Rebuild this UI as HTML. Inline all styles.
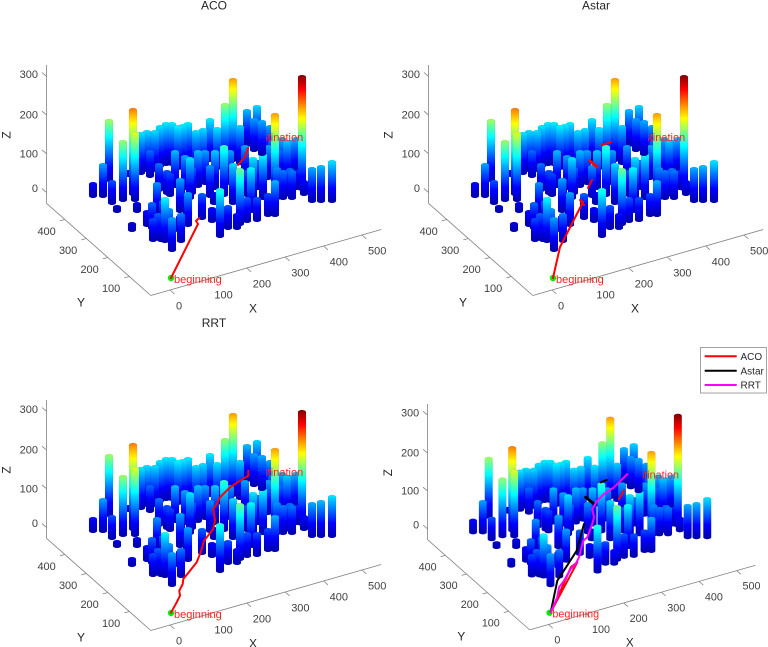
<!DOCTYPE html>
<html><head><meta charset="utf-8"><style>
html,body{margin:0;padding:0;background:#fff;}
svg{display:block;}
text{font-family:"Liberation Sans",Arial,sans-serif;}
</style></head><body>
<svg width="768" height="647" viewBox="0 0 768 647" xmlns="http://www.w3.org/2000/svg">
<defs>
<linearGradient id="j" gradientUnits="userSpaceOnUse" x1="0" y1="0" x2="0" y2="-116">
<stop offset="0" stop-color="#0000a8"/>
<stop offset="0.125" stop-color="#0000ff"/>
<stop offset="0.39" stop-color="#00ffff"/>
<stop offset="0.625" stop-color="#ffff00"/>
<stop offset="0.875" stop-color="#ff0000"/>
<stop offset="1" stop-color="#800000"/>
</linearGradient>
<g id="bars" fill="url(#j)" stroke="#000060" stroke-opacity="0.12" stroke-width="0.5">
<rect transform="translate(257,146)" x="-4" y="-41" width="8" height="41" rx="4" ry="2"/>
<rect transform="translate(247,147)" x="-4" y="-38" width="8" height="38" rx="4" ry="2"/>
<rect transform="translate(254,152)" x="-4" y="-34" width="8" height="34" rx="4" ry="2"/>
<rect transform="translate(262,156)" x="-4" y="-36" width="8" height="36" rx="4" ry="2"/>
<rect transform="translate(270,160)" x="-4" y="-35" width="8" height="35" rx="4" ry="2"/>
<rect transform="translate(233,162)" x="-4" y="-84" width="8" height="84" rx="4" ry="2"/>
<rect transform="translate(210,162)" x="-4" y="-44" width="8" height="44" rx="4" ry="2"/>
<rect transform="translate(240,165)" x="-4" y="-40" width="8" height="40" rx="4" ry="2"/>
<rect transform="translate(225,165)" x="-4" y="-62" width="8" height="62" rx="4" ry="2"/>
<rect transform="translate(166,166)" x="-4" y="-44" width="8" height="44" rx="4" ry="2"/>
<rect transform="translate(172,166)" x="-4" y="-44" width="8" height="44" rx="4" ry="2"/>
<rect transform="translate(188,166)" x="-4" y="-44" width="8" height="44" rx="4" ry="2"/>
<rect transform="translate(272,168)" x="-4" y="-28" width="8" height="28" rx="4" ry="2"/>
<rect transform="translate(160,168)" x="-4" y="-43" width="8" height="43" rx="4" ry="2"/>
<rect transform="translate(183,168)" x="-4" y="-44" width="8" height="44" rx="4" ry="2"/>
<rect transform="translate(217,170)" x="-4" y="-43" width="8" height="43" rx="4" ry="2"/>
<rect transform="translate(178,170)" x="-4" y="-45" width="8" height="45" rx="4" ry="2"/>
<rect transform="translate(203,170)" x="-4" y="-42" width="8" height="42" rx="4" ry="2"/>
<rect transform="translate(147,172)" x="-4" y="-42" width="8" height="42" rx="4" ry="2"/>
<rect transform="translate(155,172)" x="-4" y="-42" width="8" height="42" rx="4" ry="2"/>
<rect transform="translate(196,172)" x="-4" y="-42" width="8" height="42" rx="4" ry="2"/>
<rect transform="translate(265,172)" x="-4" y="-22" width="8" height="22" rx="4" ry="2"/>
<rect transform="translate(277,172)" x="-4" y="-32" width="8" height="32" rx="4" ry="2"/>
<rect transform="translate(141,175)" x="-4" y="-43" width="8" height="43" rx="4" ry="2"/>
<rect transform="translate(282,175)" x="-4" y="-38" width="8" height="38" rx="4" ry="2"/>
<rect transform="translate(296,175)" x="-4" y="-38" width="8" height="38" rx="4" ry="2"/>
<rect transform="translate(290,176)" x="-4" y="-36" width="8" height="36" rx="4" ry="2"/>
<rect transform="translate(129,177)" x="-4" y="-7" width="8" height="7" rx="4" ry="2"/>
<rect transform="translate(280,178)" x="-4" y="-28" width="8" height="28" rx="4" ry="2"/>
<rect transform="translate(150,178)" x="-4" y="-28" width="8" height="28" rx="4" ry="2"/>
<rect transform="translate(287,180)" x="-4" y="-40" width="8" height="40" rx="4" ry="2"/>
<rect transform="translate(268,180)" x="-4" y="-35" width="8" height="35" rx="4" ry="2"/>
<rect transform="translate(245,180)" x="-4" y="-35" width="8" height="35" rx="4" ry="2"/>
<rect transform="translate(109,182)" x="-4" y="-63" width="8" height="63" rx="4" ry="2"/>
<rect transform="translate(205,185)" x="-4" y="-35" width="8" height="35" rx="4" ry="2"/>
<rect transform="translate(230,185)" x="-4" y="-35" width="8" height="35" rx="4" ry="2"/>
<rect transform="translate(175,188)" x="-4" y="-38" width="8" height="38" rx="4" ry="2"/>
<rect transform="translate(198,188)" x="-4" y="-38" width="8" height="38" rx="4" ry="2"/>
<rect transform="translate(185,190)" x="-4" y="-35" width="8" height="35" rx="4" ry="2"/>
<rect transform="translate(215,190)" x="-4" y="-40" width="8" height="40" rx="4" ry="2"/>
<rect transform="translate(258,190)" x="-4" y="-30" width="8" height="30" rx="4" ry="2"/>
<rect transform="translate(297,190)" x="-4" y="-20" width="8" height="20" rx="4" ry="2"/>
<rect transform="translate(302,191)" x="-4" y="-116" width="8" height="116" rx="4" ry="2"/>
<rect transform="translate(159,192)" x="-4" y="-29" width="8" height="29" rx="4" ry="2"/>
<rect transform="translate(167,195)" x="-4" y="-25" width="8" height="25" rx="4" ry="2"/>
<rect transform="translate(192,195)" x="-4" y="-28" width="8" height="28" rx="4" ry="2"/>
<rect transform="translate(304,196)" x="-4" y="-16" width="8" height="16" rx="4" ry="2"/>
<rect transform="translate(133,196)" x="-4" y="-88" width="8" height="88" rx="4" ry="2"/>
<rect transform="translate(224,197)" x="-4" y="-52" width="8" height="52" rx="4" ry="2"/>
<rect transform="translate(275,197)" x="-4" y="-84" width="8" height="84" rx="4" ry="2"/>
<rect transform="translate(290,197)" x="-4" y="-29" width="8" height="29" rx="4" ry="2"/>
<rect transform="translate(247,197)" x="-4" y="-27" width="8" height="27" rx="4" ry="2"/>
<rect transform="translate(170,197)" x="-4" y="-24" width="8" height="24" rx="4" ry="2"/>
<rect transform="translate(93,198)" x="-4" y="-16" width="8" height="16" rx="4" ry="2"/>
<rect transform="translate(103,198)" x="-4" y="-35" width="8" height="35" rx="4" ry="2"/>
<rect transform="translate(210,198)" x="-4" y="-33" width="8" height="33" rx="4" ry="2"/>
<rect transform="translate(190,200)" x="-4" y="-43" width="8" height="43" rx="4" ry="2"/>
<rect transform="translate(253,200)" x="-4" y="-43" width="8" height="43" rx="4" ry="2"/>
<rect transform="translate(263,200)" x="-4" y="-47" width="8" height="47" rx="4" ry="2"/>
<rect transform="translate(277,200)" x="-4" y="-33" width="8" height="33" rx="4" ry="2"/>
<rect transform="translate(283,200)" x="-4" y="-30" width="8" height="30" rx="4" ry="2"/>
<rect transform="translate(292,200)" x="-4" y="-30" width="8" height="30" rx="4" ry="2"/>
<rect transform="translate(123,202)" x="-4" y="-62" width="8" height="62" rx="4" ry="2"/>
<rect transform="translate(135,202)" x="-4" y="-70" width="8" height="70" rx="4" ry="2"/>
<rect transform="translate(312,203)" x="-4" y="-36" width="8" height="36" rx="4" ry="2"/>
<rect transform="translate(321,203)" x="-4" y="-38" width="8" height="38" rx="4" ry="2"/>
<rect transform="translate(332,203)" x="-4" y="-43" width="8" height="43" rx="4" ry="2"/>
<rect transform="translate(233,205)" x="-4" y="-42" width="8" height="42" rx="4" ry="2"/>
<rect transform="translate(181,205)" x="-4" y="-27" width="8" height="27" rx="4" ry="2"/>
<rect transform="translate(112,205)" x="-4" y="-25" width="8" height="25" rx="4" ry="2"/>
<rect transform="translate(214,205)" x="-4" y="-13" width="8" height="13" rx="4" ry="2"/>
<rect transform="translate(117,213)" x="-4" y="-8" width="8" height="8" rx="4" ry="2"/>
<rect transform="translate(137,213)" x="-4" y="-11" width="8" height="11" rx="4" ry="2"/>
<rect transform="translate(251,213)" x="-4" y="-46" width="8" height="46" rx="4" ry="2"/>
<rect transform="translate(180,213)" x="-4" y="-35" width="8" height="35" rx="4" ry="2"/>
<rect transform="translate(157,215)" x="-4" y="-33" width="8" height="33" rx="4" ry="2"/>
<rect transform="translate(268,217)" x="-4" y="-24" width="8" height="24" rx="4" ry="2"/>
<rect transform="translate(275,217)" x="-4" y="-37" width="8" height="37" rx="4" ry="2"/>
<rect transform="translate(187,218)" x="-4" y="-20" width="8" height="20" rx="4" ry="2"/>
<rect transform="translate(202,220)" x="-4" y="-27" width="8" height="27" rx="4" ry="2"/>
<rect transform="translate(257,222)" x="-4" y="-25" width="8" height="25" rx="4" ry="2"/>
<rect transform="translate(247,223)" x="-4" y="-26" width="8" height="26" rx="4" ry="2"/>
<rect transform="translate(212,223)" x="-4" y="-16" width="8" height="16" rx="4" ry="2"/>
<rect transform="translate(240,226)" x="-4" y="-58" width="8" height="58" rx="4" ry="2"/>
<rect transform="translate(163,227)" x="-4" y="-27" width="8" height="27" rx="4" ry="2"/>
<rect transform="translate(188,227)" x="-4" y="-35" width="8" height="35" rx="4" ry="2"/>
<rect transform="translate(147,227)" x="-4" y="-17" width="8" height="17" rx="4" ry="2"/>
<rect transform="translate(228,230)" x="-4" y="-25" width="8" height="25" rx="4" ry="2"/>
<rect transform="translate(237,230)" x="-4" y="-17" width="8" height="17" rx="4" ry="2"/>
<rect transform="translate(152,230)" x="-4" y="-28" width="8" height="28" rx="4" ry="2"/>
<rect transform="translate(132,232)" x="-4" y="-10" width="8" height="10" rx="4" ry="2"/>
<rect transform="translate(180,233)" x="-4" y="-18" width="8" height="18" rx="4" ry="2"/>
<rect transform="translate(220,238)" x="-4" y="-50" width="8" height="50" rx="4" ry="2"/>
<rect transform="translate(158,240)" x="-4" y="-27" width="8" height="27" rx="4" ry="2"/>
<rect transform="translate(153,242)" x="-4" y="-24" width="8" height="24" rx="4" ry="2"/>
<rect transform="translate(161,242)" x="-4" y="-15" width="8" height="15" rx="4" ry="2"/>
<rect transform="translate(169,242)" x="-4" y="-34" width="8" height="34" rx="4" ry="2"/>
<rect transform="translate(165,243)" x="-4" y="-46" width="8" height="46" rx="4" ry="2"/>
<rect transform="translate(181,243)" x="-4" y="-30" width="8" height="30" rx="4" ry="2"/>
<rect transform="translate(172,252)" x="-4" y="-35" width="8" height="35" rx="4" ry="2"/>
</g>
<g id="panel">
<g stroke="#808080" stroke-width="0.8" fill="none">
<line x1="150.8" y1="295.5" x2="381.2" y2="229.5"/>
<line x1="150.8" y1="295.5" x2="46.5" y2="203.3"/>
<line x1="46.5" y1="203.3" x2="46.5" y2="65"/>
<path d="M46.5,76.3 l-4.5,-3.8 M46.5,115 l-4.5,-3.8 M46.5,153.7 l-4.5,-3.8 M46.5,192.4 l-4.5,-3.8"/>
<path d="M170,290 l4.3,3.8 M208.4,279 l4.3,3.8 M246.8,268 l4.3,3.8 M285.2,257 l4.3,3.8 M323.6,246 l4.3,3.8 M362,235 l4.3,3.8"/>
<path d="M129.3,276.5 l-5,1.4 M107.8,257.5 l-5,1.4 M86.3,238.5 l-5,1.4 M64.8,219.5 l-5,1.4"/>
</g>
<g font-size="11" fill="#404040">
<text x="38" y="78" text-anchor="end">300</text>
<text x="38" y="118.5" text-anchor="end">200</text>
<text x="38" y="157.5" text-anchor="end">100</text>
<text x="38" y="192" text-anchor="end">0</text>
<text x="176" y="309.5">0</text>
<text x="214.4" y="298.5">100</text>
<text x="252.8" y="287.5">200</text>
<text x="291.2" y="276.5">300</text>
<text x="329.6" y="265.5">400</text>
<text x="368" y="254.5">500</text>
<text x="120.3" y="292" text-anchor="end">100</text>
<text x="98.8" y="273" text-anchor="end">200</text>
<text x="77.3" y="254" text-anchor="end">300</text>
<text x="55.8" y="235" text-anchor="end">400</text>
</g>
<g font-size="12" fill="#262626">
<text x="81" y="306.5" text-anchor="middle">Y</text>
<text x="253" y="312.5" text-anchor="middle">X</text>
<text transform="translate(10.5,135) rotate(-90)" text-anchor="middle">Z</text>
</g>
<use href="#bars"/>
<text x="250" y="141" font-size="11" fill="#ff2020">destination</text>
<g fill="url(#j)">
<rect transform="translate(257,146)" x="-4" y="-41" width="8" height="41" rx="4" ry="2"/>
<rect transform="translate(254,152)" x="-4" y="-34" width="8" height="34" rx="4" ry="2"/>
<rect transform="translate(262,156)" x="-4" y="-36" width="8" height="36" rx="4" ry="2"/>
</g>
<circle cx="171" cy="278" r="3.2" fill="#00ee00"/>
<text x="174" y="283" font-size="11" fill="#ff2020">beginning</text>
</g>
</defs>

<g font-size="12" fill="#262626" text-anchor="middle">
<text x="214" y="9.5">ACO</text>
<text x="596" y="9.5">Astar</text>
<text x="214" y="327">RRT</text>
</g>

<use href="#panel"/>
<use href="#panel" transform="translate(382,0)"/>
<use href="#panel" transform="translate(0,335)"/>
<use href="#panel" transform="translate(381.9,340.3) scale(0.98)"/>

<g fill="none" stroke-width="2" stroke-linejoin="round" stroke-linecap="round">
<path d="M171,278 L198,224 L196,221 L199,218" stroke="#ff0000"/>
<path d="M238,165 L245,157 L248,148" stroke="#ff0000"/>
<path d="M553,278 L560,247 L583,202 L580,200 L584,205" stroke="#ff0000"/>
<path d="M588,188 L592,180" stroke="#ff0000"/>
<path d="M590,161 L597,167" stroke="#ff0000" stroke-width="3"/>
<path d="M602,145 L611,142" stroke="#ff0000"/>
<path d="M171,612.7 L176.7,602.3 L180,595.7 L179.3,590.7 L182.7,584 L183.3,579 L190,570.7 L196.7,562.3 L200,554 L201.7,549 L204,540.7 L213.3,529 L215,520.7 L213.3,509 L216.7,504 L220,497.3 L230,487.3 L240,480.7 L248.3,475.7 L248.3,470.7" stroke="#ff0000"/>
<path d="M550.7,612.3 L577.3,562.3 M552,610 L571,567 L577.3,562.3" stroke="#ff0000"/>
<path d="M619,499 L624,490.7" stroke="#ff0000"/>
<path d="M550.7,612.3 L557.3,580.7 L566,567.3 L576.7,550.7 L584,524" stroke="#000000"/>
<path d="M585.7,497.3 L594,504" stroke="#000000" stroke-width="3"/>
<path d="M600.7,482.3 L606.7,480" stroke="#000000"/>
<path d="M550.7,612.3 L557.3,597.3 L559,587.3 L564,580.7 L570.7,569 L575.7,564 L579,557.3 L580.7,550.7 L583.3,540.7 L587.3,537.3 L592.3,524 L594,517.3 L592.3,509 L597.3,500.7 L604,494 L614,487.3 L620.7,480.7 L627.3,474" stroke="#ff00ff"/>
</g>

<rect x="700.5" y="347.5" width="66" height="45.5" fill="#fff" stroke="#8c8c8c" stroke-width="0.8"/>
<g stroke-width="2">
<line x1="704.7" y1="356.3" x2="736.7" y2="356.3" stroke="#ff0000"/>
<line x1="704.7" y1="370.8" x2="736.7" y2="370.8" stroke="#000000"/>
<line x1="704.7" y1="385" x2="736.7" y2="385" stroke="#ff00ff"/>
</g>
<g font-size="10" fill="#262626">
<text x="740.5" y="360">ACO</text>
<text x="740.5" y="374.5">Astar</text>
<text x="740.5" y="388.7">RRT</text>
</g>
</svg>
</body></html>
